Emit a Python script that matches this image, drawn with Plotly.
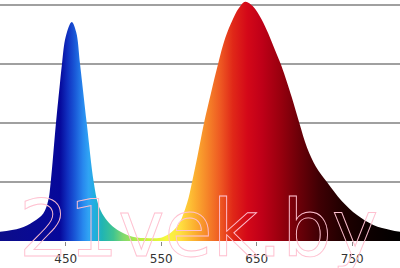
import plotly.graph_objects as go

# Wavelength (nm) and relative intensity
wavelength = [381, 402, 416, 426.5, 431.8, 434.3, 439.8, 444, 446.1, 450, 456.3,
              461, 465, 472, 479.3, 484, 490, 497, 507, 520, 538,
              552, 566.5, 577, 582.3, 588, 594.8, 602, 609.5, 617, 625, 631, 638,
              646, 655, 662, 669, 676, 686.6, 694.6, 702.7, 712, 723.5, 739,
              755, 772, 790, 800]
intensity = [0.039, 0.054, 0.082, 0.117, 0.174, 0.25, 0.5, 0.67, 0.75, 0.865, 0.928,
             0.885, 0.75, 0.5, 0.25, 0.155, 0.105, 0.07, 0.04, 0.018, 0.012,
             0.017, 0.06, 0.16, 0.25, 0.36, 0.5, 0.625, 0.75, 0.86, 0.94, 0.985, 1.014,
             0.995, 0.94, 0.88, 0.81, 0.74, 0.61, 0.50, 0.395, 0.315, 0.25, 0.17,
             0.11, 0.068, 0.047, 0.039]

tick_vals = [450, 550, 650, 750]
tick_text = ["450", "550", "650", "750"]

x_min, x_max = 381.2, 800
# spectrum colours by wavelength
color_nm = [381, 444, 452, 460, 468, 474, 480, 488, 500, 510, 525, 540, 556, 570, 585,
            600, 612, 625, 640, 655, 675, 695, 715, 740, 770, 800]
color_hex = ["#0c0c8a", "#06089a", "#1030c0", "#1a5ad8", "#2888ee", "#30a4f4", "#22aee0",
             "#20b4b4", "#40c490", "#80d870", "#b4ec48", "#d4f43c", "#f8f840", "#ffe040",
             "#fcb030", "#f58028", "#ee5822", "#e02818", "#d40818", "#c00018", "#98000e",
             "#6a0008", "#400004", "#200000", "#0c0000", "#000000"]
colorscale = [[(c - x_min) / (x_max - x_min) if c > x_min else 0.0, h]
              for c, h in zip(color_nm, color_hex)]
colorscale[-1][0] = 1.0

fig = go.Figure()
fig.add_trace(go.Scatter(
    x=wavelength, y=intensity, mode="lines",
    line=dict(width=0, shape="spline", smoothing=1.0),
    fill="tozeroy",
    fillgradient=dict(type="horizontal", colorscale=colorscale, start=x_min, stop=x_max),
    hoverinfo="skip", showlegend=False,
))

fig.add_annotation(
    text="21vek.by", xref="paper", yref="paper", x=0.497, y=0.05,
    xanchor="center", yanchor="middle", showarrow=False,
    font=dict(family="DejaVu Sans", size=78, color="#ffc0d0"),
)

fig.update_layout(
    width=400, height=268,
    margin=dict(l=0, r=0, t=0, b=27),
    paper_bgcolor="white", plot_bgcolor="white",
    xaxis=dict(range=[x_min, x_max], tickvals=tick_vals, ticktext=tick_text,
               showgrid=False, zeroline=False, showline=False,
               ticks="outside", ticklen=4, tickcolor="#888888", tickwidth=1,
               ticklabelstandoff=3,
               tickfont=dict(family="DejaVu Sans", size=12, color="#333333")),
    yaxis=dict(range=[0, 241 / 236], tickvals=[0.25, 0.5, 0.75, 1.0],
               showticklabels=False, showgrid=True, gridcolor="#a0a0a0", gridwidth=1.5,
               zeroline=False, showline=False),
)

css = (".annotation-text{fill:none !important;stroke:#ffc0d0;stroke-width:0.9px;}")
post = ("var s=document.createElement('style');s.textContent='" + css +
        "';document.head.appendChild(s);")
fig.write_html("out.html", post_script=post)
